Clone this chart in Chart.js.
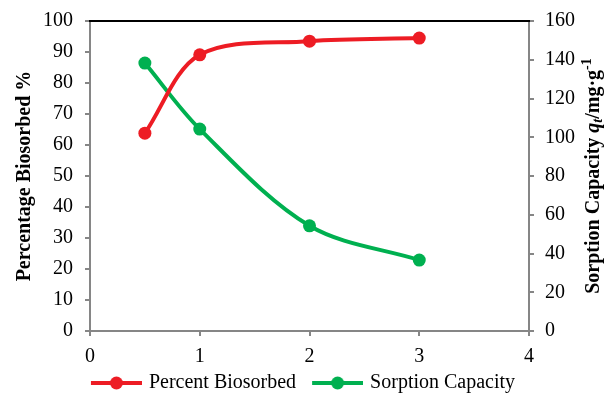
<!DOCTYPE html>
<html>
<head>
<meta charset="utf-8">
<script src="https://cdn.jsdelivr.net/npm/chart.js@4.4.1/dist/chart.umd.min.js"></script>
<style>
  html, body { margin: 0; padding: 0; background: #ffffff; }
  #wrap { width: 610px; height: 394px; }
</style>
</head>
<body>
<div id="wrap"><canvas id="c" width="610" height="394"></canvas></div>
<script>
// ---- data ----
const xValues = [0.5, 1, 2, 3];
const percentBiosorbed = [63.8, 89.1, 93.5, 94.5];
const sorptionCapacity = [138.3, 104.2, 54.3, 36.6];
const xTicks = [0, 1, 2, 3, 4];
const leftTicks = [0, 10, 20, 30, 40, 50, 60, 70, 80, 90, 100];
const rightTicks = [0, 20, 40, 60, 80, 100, 120, 140, 160];
const seriesNames = ['Percent Biosorbed', 'Sorption Capacity'];
const leftTitle = 'Percentage Biosorbed %';

const RED = '#ed1c24';
const GREEN = '#00b050';
const AXIS = '#868686';
const FONT = "'Liberation Serif', 'Times New Roman', serif";

function legendIcon(color) {
  const cv = document.createElement('canvas');
  cv.width = 64; cv.height = 14;
  const g = cv.getContext('2d');
  g.strokeStyle = color; g.lineWidth = 4;
  g.beginPath(); g.moveTo(13, 7); g.lineTo(64, 7); g.stroke();
  g.fillStyle = color;
  g.beginPath(); g.arc(38.5, 7, 6.5, 0, Math.PI * 2); g.fill();
  return cv;
}

const toPts = (ys) => xValues.map((x, i) => ({ x: x, y: ys[i] }));

const layoutPlugin = {
  id: 'legendHeight',
  beforeLayout(chart) {
    const lg = chart.legend;
    if (lg && !lg._patched) {
      const origFit = lg.fit.bind(lg);
      lg.fit = function () { origFit(); this.height = 30; };
      const origDraw = lg.draw.bind(lg);
      lg.draw = function () {
        const ctx = this.ctx;
        ctx.save();
        ctx.translate(-7, 3);
        origDraw();
        ctx.restore();
      };
      lg._patched = true;
    }
  }
};

const rightTitlePlugin = {
  id: 'rightTitle',
  afterDraw(chart) {
    const ctx = chart.ctx;
    const ca = chart.chartArea;
    // top black border
    ctx.save();
    ctx.strokeStyle = '#000000';
    ctx.lineWidth = 2;
    ctx.beginPath();
    ctx.moveTo(ca.left - 1, ca.top);
    ctx.lineTo(ca.right + 1, ca.top);
    ctx.stroke();
    ctx.restore();

    // right axis title with rich text
    const parts = [
      { t: 'Sorption Capacity ', f: 'bold 20px ' + FONT, dy: 0 },
      { t: 'q', f: 'italic bold 20px ' + FONT, dy: 0 },
      { t: 't', f: 'italic bold 14px ' + FONT, dy: 4 },
      { t: '/mg\u00b7g', f: 'bold 20px ' + FONT, dy: 0 },
      { t: '-1', f: 'bold 14px ' + FONT, dy: -7 }
    ];
    ctx.save();
    let total = 0;
    parts.forEach(p => { ctx.font = p.f; p.w = ctx.measureText(p.t).width; total += p.w; });
    const cx = chart.scales.y1.right - 16;
    const cy = (ca.top + ca.bottom) / 2;
    ctx.translate(cx, cy);
    ctx.rotate(-Math.PI / 2);
    ctx.fillStyle = '#000000';
    ctx.textBaseline = 'middle';
    ctx.textAlign = 'left';
    let x = -total / 2;
    parts.forEach(p => {
      ctx.font = p.f;
      ctx.fillText(p.t, x, p.dy);
      x += p.w;
    });
    ctx.restore();
  }
};

function fitY(width) {
  return function (scale) {
    scale.width = width;
    scale.paddingTop = 0;
    scale.paddingBottom = 0;
  };
}

new Chart(document.getElementById('c'), {
  type: 'line',
  data: {
    datasets: [
      {
        label: seriesNames[0],
        data: toPts(percentBiosorbed),
        yAxisID: 'y',
        borderColor: RED,
        backgroundColor: RED,
        borderWidth: 4,
        pointRadius: 6.5,
        pointHoverRadius: 6.5,
        pointBackgroundColor: RED,
        pointBorderColor: RED,
        pointBorderWidth: 0,
        tension: 0.33,
        fill: false
      },
      {
        label: seriesNames[1],
        data: toPts(sorptionCapacity),
        yAxisID: 'y1',
        borderColor: GREEN,
        backgroundColor: GREEN,
        borderWidth: 4,
        pointRadius: 6.5,
        pointHoverRadius: 6.5,
        pointBackgroundColor: GREEN,
        pointBorderColor: GREEN,
        pointBorderWidth: 0,
        tension: 0.33,
        fill: false
      }
    ]
  },
  options: {
    responsive: false,
    animation: false,
    devicePixelRatio: 1,
    layout: { padding: { top: 21, left: 0, right: 0, bottom: 0 } },
    plugins: {
      tooltip: { enabled: false },
      legend: {
        display: true,
        position: 'bottom',
        labels: {
          usePointStyle: true,
          pointStyleWidth: 58,
          padding: 6,
          color: '#000000',
          font: { family: FONT, size: 20 },
          generateLabels(chart) {
            return chart.data.datasets.map((ds, i) => ({
              text: ds.label,
              pointStyle: legendIcon(ds.borderColor),
              fillStyle: ds.borderColor,
              strokeStyle: ds.borderColor,
              lineWidth: 0,
              hidden: false,
              datasetIndex: i,
              fontColor: '#000000'
            }));
          }
        }
      }
    },
    scales: {
      x: {
        type: 'linear',
        min: 0,
        max: 4,
        afterBuildTicks(scale) { scale.ticks = xTicks.map(v => ({ value: v })); },
        afterFit(scale) { scale.height = 33; },
        border: { display: true, color: AXIS, width: 2 },
        grid: { display: true, drawOnChartArea: false, drawTicks: true, tickLength: 5, color: AXIS, lineWidth: 2 },
        ticks: { color: '#000000', padding: 9, font: { family: FONT, size: 20 } }
      },
      y: {
        type: 'linear',
        position: 'left',
        min: 0,
        max: 100,
        afterBuildTicks(scale) { scale.ticks = leftTicks.map(v => ({ value: v })); },
        afterFit: fitY(90),
        border: { display: true, color: AXIS, width: 2 },
        grid: { display: true, drawOnChartArea: false, drawTicks: true, tickLength: 5, color: AXIS, lineWidth: 2 },
        ticks: { color: '#000000', padding: 12, font: { family: FONT, size: 20 } },
        title: {
          display: true,
          text: leftTitle,
          color: '#000000',
          font: { family: FONT, size: 20, weight: 'bold' },
          padding: { top: 13, bottom: 4 }
        }
      },
      y1: {
        type: 'linear',
        position: 'right',
        min: 0,
        max: 160,
        afterBuildTicks(scale) { scale.ticks = rightTicks.map(v => ({ value: v })); },
        afterFit: fitY(81),
        border: { display: true, color: AXIS, width: 2 },
        grid: { display: true, drawOnChartArea: false, drawTicks: true, tickLength: 5, color: AXIS, lineWidth: 2 },
        ticks: { color: '#000000', padding: 11, font: { family: FONT, size: 20 } }
      }
    }
  },
  plugins: [layoutPlugin, rightTitlePlugin]
});
</script>
</body>
</html>
